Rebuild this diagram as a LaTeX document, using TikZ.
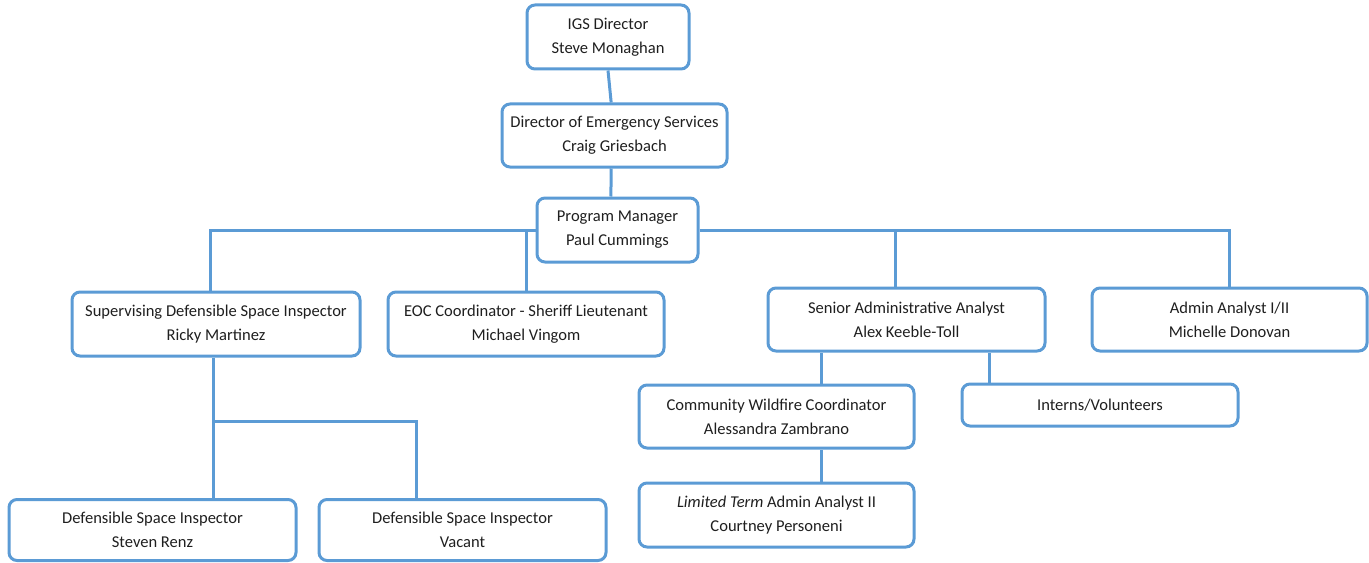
\documentclass[tikz,border=0pt]{standalone}
\usepackage{fontspec}
\setmainfont{Carlito}
\usepackage{tikz}
\usetikzlibrary{shapes.misc}
\usepackage{xcolor}
\definecolor{orgblue}{HTML}{5B9BD5}
\definecolor{orgtext}{HTML}{1F1F1F}

\begin{document}
\begin{tikzpicture}[x = .75pt, y = -.75pt,
  post/.style = {draw = orgblue, line width = 2.25pt, rounded corners = 6pt, fill = white, align = center, inner sep = 0, text = orgtext, font = \fontsize{12.4}{18}\selectfont},
  link/.style = {draw = orgblue, line width = 2.25pt}]
 \useasboundingbox (0, 0) rectangle (1369, 563);
  \node[post, minimum width = 121.5pt, minimum height = 48pt] (igs) at (608, 37) {IGS Director\\Steve Monaghan};
  \node[post, minimum width = 168.75pt, minimum height = 47.25pt] (des) at (614.5, 135.5) {Director of Emergency Services\\Craig Griesbach};
  \node[post, minimum width = 120.75pt, minimum height = 48pt] (pm) at (617.5, 230) {Program Manager\\Paul Cummings};
  \node[post, minimum width = 216pt, minimum height = 48pt] (sup) at (216, 324) {Supervising Defensible Space Inspector\\Ricky Martinez};
  \node[post, minimum width = 207pt, minimum height = 48pt] (eoc) at (526, 324) {EOC Coordinator - Sheriff Lieutenant\\Michael Vingom};
  \node[post, minimum width = 207.75pt, minimum height = 47.25pt] (sen) at (906.5, 319.5) {Senior Administrative Analyst\\Alex Keeble-Toll};
  \node[post, minimum width = 206.25pt, minimum height = 47.25pt] (adm) at (1229.5, 319.5) {Admin Analyst I/II\\Michelle Donovan};
  \node[post, minimum width = 206.25pt, minimum height = 47.25pt] (com) at (776.5, 416.5) {Community Wildfire Coordinator\\Alessandra Zambrano};
  \node[post, minimum width = 207pt, minimum height = 31.5pt] (int) at (1100, 405) {Interns/Volunteers};
  \node[post, minimum width = 206.25pt, minimum height = 48pt] (lim) at (776.5, 515) {\textit{Limited Term} Admin Analyst II\\Courtney Personeni};
  \node[post, minimum width = 215.25pt, minimum height = 45.75pt] (ste) at (152.5, 530) {Defensible Space Inspector\\Steven Renz};
  \node[post, minimum width = 215.25pt, minimum height = 45.75pt] (vac) at (462.5, 530) {Defensible Space Inspector\\Vacant};
  \coordinate (split) at (213, 421);
  \coordinate (vacin) at (416, 421);
  \draw[link] (igs.south) -- ([xshift = -2.5pt]des.north);
  \draw[link] ([xshift = -2.6pt]des.south) -- ([xshift = -4.9pt]pm.north);
  \draw[link] (pm.west) -| ([xshift = -4.5pt]sup.north);
  \draw[link] (eoc.north) -- (eoc.north |- pm.west);
  \draw[link] (pm.east) -| ([xshift = -8.5pt]sen.north);
  \draw[link] (pm.east) -| (adm.north);
  \draw[link] (sup.south -| split) -- (split) -- (vacin) -- (vacin |- vac.north);
  \draw[link] (split) -- (split |- ste.north);
  \draw[link] ([xshift = 34pt]com.north) -- ([xshift = 34pt]com.north |- sen.south);
  \draw[link] ([xshift = -83.25pt]int.north) -- ([xshift = -83.25pt]int.north |- sen.south);
  \draw[link] ([xshift = 34pt]lim.north) -- ([xshift = 34pt]com.south);
 \end{tikzpicture}
\end{document}
